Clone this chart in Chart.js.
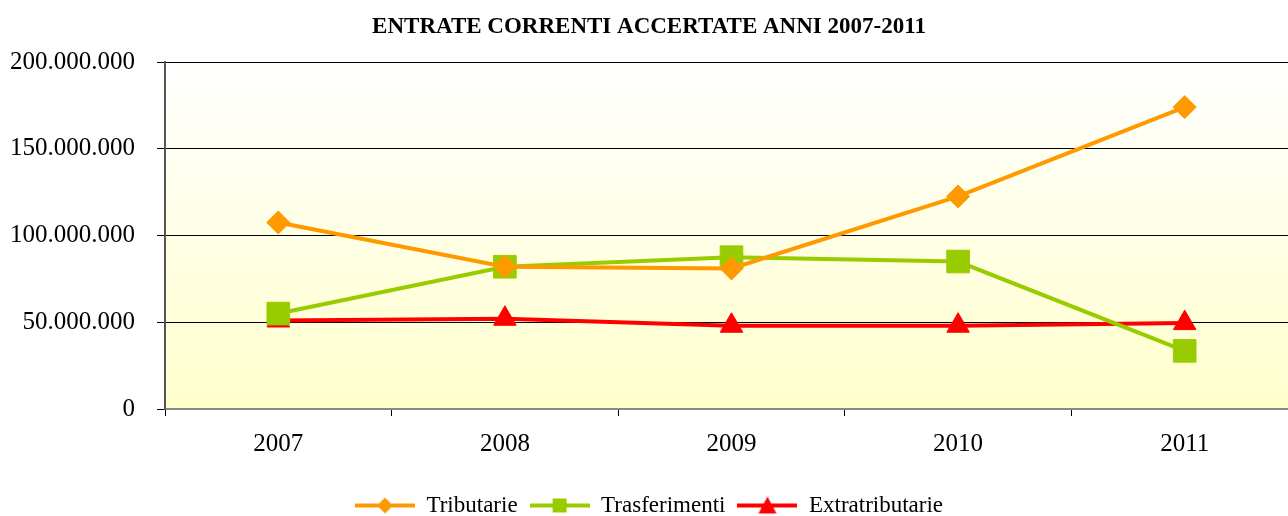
<!DOCTYPE html>
<html>
<head>
<meta charset="utf-8">
<script src="https://cdn.jsdelivr.net/npm/chart.js@4.4.0/dist/chart.umd.min.js"></script>
<style>
  html, body { margin: 0; padding: 0; background: #fff; overflow: hidden; }
  #entrate { display: block; }
</style>
</head>
<body>
<canvas id="entrate" width="1300" height="516"></canvas>
<script>
// valori
const anni = ['2007', '2008', '2009', '2010', '2011'];
const tributarie = [107500000, 82000000, 81000000, 122500000, 174000000];
const trasferimenti = [55000000, 82000000, 87500000, 85000000, 33500000];
const extratributarie = [51000000, 52000000, 48000000, 48000000, 49500000];

const ARANCIO = '#FF9900';
const VERDE = '#99CC00';
const ROSSO = '#FF0000';

// icona della legenda: linea con il marcatore al centro
function legendIcon(color, shape) {
  const c = document.createElement('canvas');
  c.width = 60;
  c.height = 22;
  const ctx = c.getContext('2d');
  ctx.strokeStyle = color;
  ctx.fillStyle = color;
  ctx.lineWidth = 4;
  ctx.beginPath();
  ctx.moveTo(0, 11);
  ctx.lineTo(60, 11);
  ctx.stroke();
  ctx.beginPath();
  if (shape === 'diamond') {
    ctx.moveTo(30, 3); ctx.lineTo(38, 11); ctx.lineTo(30, 19); ctx.lineTo(22, 11);
  } else if (shape === 'square') {
    ctx.rect(23, 4, 14, 14);
  } else {
    ctx.moveTo(30, 2); ctx.lineTo(39, 19); ctx.lineTo(21, 19);
  }
  ctx.closePath();
  ctx.fill();
  return c;
}

const sfondo = {
  id: 'sfondo',
  beforeDraw(chart) {
    const { ctx, chartArea: a } = chart;
    const g = ctx.createLinearGradient(0, a.top, 0, a.bottom);
    g.addColorStop(0, '#FFFFFF');
    g.addColorStop(1, '#FFFFCC');
    ctx.save();
    ctx.fillStyle = g;
    ctx.fillRect(a.left, a.top, a.right - a.left, a.bottom - a.top);
    ctx.strokeStyle = '#888';
    ctx.lineWidth = 1;
    ctx.beginPath();
    ctx.moveTo(a.left, a.top + 0.5);
    ctx.lineTo(a.right, a.top + 0.5);
    ctx.stroke();
    ctx.restore();
  }
};

function puntini(v) {
  return String(v).replace(/\B(?=(\d{3})+(?!\d))/g, '.');
}

const icone = [legendIcon(ARANCIO, 'diamond'), legendIcon(VERDE, 'square'), legendIcon(ROSSO, 'triangle')];

new Chart(document.getElementById('entrate'), {
  type: 'line',
  data: {
    labels: anni,
    datasets: [
      {
        label: 'Tributarie',
        data: tributarie,
        borderColor: ARANCIO,
        backgroundColor: ARANCIO,
        borderWidth: 4,
        pointStyle: 'rectRot',
        pointRadius: 11.5,
        pointHoverRadius: 11.5,
        pointBorderWidth: 1
      },
      {
        label: 'Trasferimenti',
        data: trasferimenti,
        borderColor: VERDE,
        backgroundColor: VERDE,
        borderWidth: 4,
        pointStyle: 'rect',
        pointRadius: 16,
        pointHoverRadius: 16,
        pointBorderWidth: 1
      },
      {
        label: 'Extratributarie',
        data: extratributarie,
        borderColor: ROSSO,
        backgroundColor: ROSSO,
        borderWidth: 4,
        pointStyle: 'triangle',
        pointRadius: 13,
        pointHoverRadius: 13,
        pointBorderWidth: 1
      }
    ]
  },
  options: {
    responsive: false,
    animation: false,
    devicePixelRatio: 1,
    layout: { autoPadding: false, padding: { right: 2, bottom: -11 } },
    plugins: {
      title: {
        display: true,
        text: 'ENTRATE CORRENTI ACCERTATE ANNI 2007-2011',
        color: '#000',
        font: { family: 'Liberation Serif', size: 23, weight: 'bold' },
        padding: { top: 13, bottom: 21.4 }
      },
      legend: {
        position: 'bottom',
        labels: {
          color: '#000',
          font: { family: 'Liberation Serif', size: 23 },
          usePointStyle: true,
          pointStyleWidth: 60,
          padding: 12,
          generateLabels(chart) {
            return chart.data.datasets.map((ds, i) => ({
              text: ds.label,
              pointStyle: icone[i],
              fillStyle: ds.borderColor,
              strokeStyle: ds.borderColor,
              lineWidth: 0,
              hidden: false,
              datasetIndex: i,
              fontColor: '#000'
            }));
          }
        }
      },
      tooltip: { enabled: false }
    },
    scales: {
      x: {
        offset: true,
        afterFit(scale) {
          scale.height = 73;
          scale.paddingLeft = 0;
          scale.paddingRight = 0;
        },
        grid: {
          offset: true,
          drawOnChartArea: false,
          drawTicks: true,
          tickLength: 7,
          color: '#000'
        },
        border: { color: '#888', width: 2 },
        ticks: {
          color: '#000',
          padding: 13,
          font: { family: 'Liberation Serif', size: 25 }
        }
      },
      y: {
        min: 0,
        max: 200000000,
        afterFit(scale) { scale.width = 165; },
        grid: {
          color: '#000',
          lineWidth: 1,
          drawTicks: true,
          tickLength: 8
        },
        border: { color: '#555', width: 2 },
        ticks: {
          stepSize: 50000000,
          color: '#000',
          padding: 22,
          font: { family: 'Liberation Serif', size: 25 },
          callback: (v) => puntini(v)
        }
      }
    }
  },
  plugins: [sfondo]
});
</script>
</body>
</html>
